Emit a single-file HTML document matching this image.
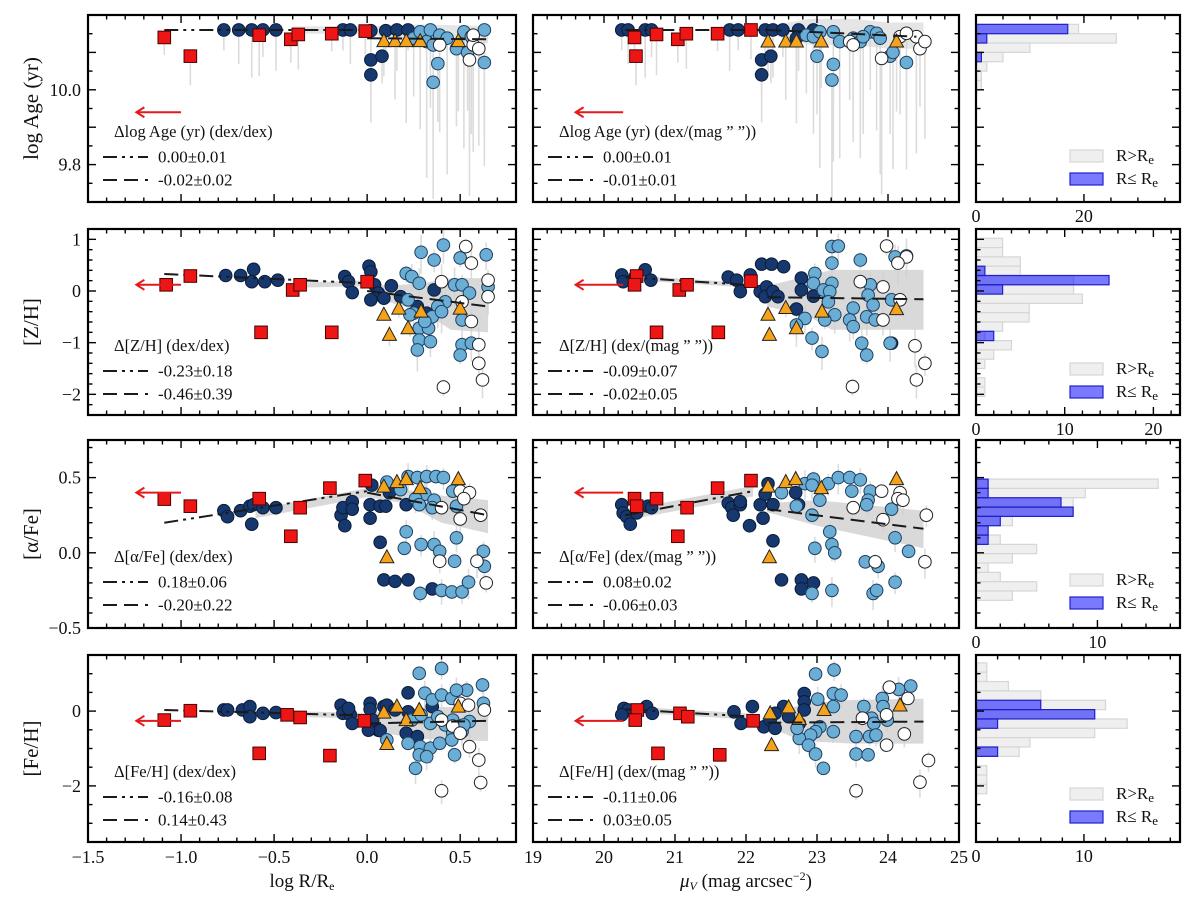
<!DOCTYPE html>
<html><head><meta charset="utf-8"><style>
body{margin:0;background:#fff;}
svg text{font-family:"Liberation Serif",serif;fill:#111;}
</style></head><body>
<svg id="fig" width="1200" height="902" viewBox="0 0 1200 902" xmlns="http://www.w3.org/2000/svg"></svg>
<script>
// ---------- DATA ----------
// Row 1: log Age vs log R/Re
const ageR_red_x=[-1.09,-0.95,-0.58,-0.41,-0.37,-0.19,-0.01];
const ageR_red_y=[10.14,10.09,10.146,10.135,10.148,10.15,10.157];
const ageR_navy_x=[-0.77,-0.69,-0.62,-0.56,-0.49,-0.13,-0.09,0.02,0.10,0.16,0.22,0.02,0.02,0.08];
const ageR_navy_y=[10.16,10.16,10.16,10.16,10.16,10.16,10.16,10.158,10.158,10.16,10.16,10.08,10.04,10.09];
const ageR_light_x=[0.25,0.285,0.32,0.34,0.355,0.38,0.39,0.43,0.48,0.52,0.54,0.56,0.63,0.63,0.355];
const ageR_light_y=[10.138,10.155,10.129,10.16,10.12,10.07,10.146,10.138,10.11,10.155,10.10,10.142,10.16,10.073,10.02];
const ageR_white_x=[0.57,0.6,0.55,0.39,0.57];
const ageR_white_y=[10.12,10.11,10.08,10.12,10.146];
const ageR_tri_x=[0.09,0.15,0.21,0.285,0.49];
const ageR_tri_y=[10.13,10.13,10.13,10.13,10.13];
const ageR_fit1_x=[-1.09,0];const ageR_fit1_y=[10.16,10.16];
const ageR_fit2_x=[0,0.65];const ageR_fit2_y=[10.138,10.135];
const ageR_band_x=[-0.4,0,0.3,0.65];const ageR_band_hi=[10.17,10.17,10.175,10.17];const ageR_band_lo=[10.15,10.15,10.12,10.125];
// Row 1: log Age vs muV
const ageM_red_x=[20.43,20.45,20.74,21.04,21.16,21.6,22.07];
const ageM_red_y=[10.14,10.09,10.148,10.135,10.15,10.15,10.16];
const ageM_navy_x=[20.25,20.34,20.58,20.67,21.77,21.89,22.27,22.38,22.52,22.74,22.95,22.22,22.22,22.35,22.71];
const ageM_navy_y=[10.16,10.16,10.16,10.16,10.16,10.16,10.16,10.16,10.16,10.16,10.16,10.08,10.04,10.09,10.138];
const ageM_light_x=[22.85,22.95,23.04,23.23,23.32,23.0,23.23,23.21,23.51,23.61,23.75,23.84,23.89,24.03,24.07,24.26,23.65];
const ageM_light_y=[10.146,10.142,10.155,10.155,10.129,10.09,10.068,10.026,10.138,10.129,10.155,10.151,10.138,10.09,10.10,10.073,10.142];
const ageM_white_x=[23.46,23.51,23.91,24.17,24.4,24.45,24.52,24.26];
const ageM_white_y=[10.129,10.12,10.084,10.142,10.142,10.11,10.129,10.151];
const ageM_tri_x=[22.31,22.56,22.71,23.06,24.12];
const ageM_tri_y=[10.129,10.129,10.129,10.129,10.129];
const ageM_fit1_x=[20.3,22.3];const ageM_fit1_y=[10.16,10.16];
const ageM_fit2_x=[22.3,24.4];const ageM_fit2_y=[10.16,10.142];
const ageM_band_x=[22.3,22.9,23.5,24.0,24.5];const ageM_band_hi=[10.17,10.19,10.19,10.18,10.18];const ageM_band_lo=[10.15,10.12,10.12,10.11,10.11];
// Row 2: [Z/H] vs log R/Re
const zR_red_x=[-1.08,-0.95,-0.57,-0.40,-0.36,-0.19,0.0];
const zR_red_y=[0.12,0.29,-0.8,0.02,0.12,-0.8,0.18];
const zR_navy_x=[-0.76,-0.68,-0.61,-0.62,-0.55,-0.48,-0.12,-0.10,-0.08,0.01,0.02,0.04,0.06,0.09,0.02,0.13,0.18,0.27,0.32,0.36];
const zR_navy_y=[0.30,0.30,0.42,0.18,0.18,0.21,0.28,0.18,-0.03,0.48,0.37,0.12,-0.04,-0.14,-0.17,0.10,-0.11,-0.30,-0.43,0.02];
const zR_light_x=[0.21,0.24,0.29,0.36,0.41,0.50,0.64,0.47,0.51,0.28,0.22,0.25,0.23,0.28,0.33,0.28,0.34,0.27,0.51,0.56,0.50,0.42,0.38,0.35,0.51,0.55,0.65,0.40,0.31];
const zR_light_y=[0.34,0.28,0.75,0.60,0.89,0.64,0.70,0.12,0.12,0.15,-0.17,-0.43,-0.46,-0.72,-0.72,-0.95,-0.98,-1.14,-1.04,-1.01,-1.24,-0.21,-0.30,-0.50,-0.56,-0.04,0.08,-0.40,-0.59];
const zR_white_x=[0.53,0.56,0.40,0.65,0.65,0.51,0.56,0.60,0.60,0.62,0.41];
const zR_white_y=[0.86,0.54,0.18,0.21,-0.11,-0.21,-0.59,-1.04,-1.40,-1.72,-1.86];
const zR_tri_x=[0.09,0.17,0.29,0.50,0.12,0.22];
const zR_tri_y=[-0.46,-0.34,-0.40,-0.34,-0.85,-0.72];
const zR_fit1_x=[-1.09,0];const zR_fit1_y=[0.33,0.15];
const zR_fit2_x=[0,0.65];const zR_fit2_y=[0.0,-0.30];
const zR_band_x=[-0.4,0,0.1,0.3,0.45,0.65];const zR_band_hi=[0.16,0.2,0.1,0.15,0.25,0.25];const zR_band_lo=[0.06,0.1,-0.2,-0.4,-0.75,-0.8];
// Row 2: [Z/H] vs muV
const zM_red_x=[20.46,20.43,21.06,21.17,20.74,21.61,22.07];
const zM_red_y=[0.29,0.12,0.02,0.12,-0.80,-0.80,0.19];
const zM_navy_x=[20.25,20.27,20.44,20.58,20.66,21.75,21.87,21.92,22.06,22.22,22.36,22.53,22.20,22.29,22.27,22.38,22.45,22.78,22.78,22.95,22.71,24.05];
const zM_navy_y=[0.31,0.18,0.28,0.41,0.21,0.27,0.21,-0.01,0.31,0.52,0.52,0.47,-0.01,0.08,-0.11,-0.01,-0.11,0.25,0.02,-0.10,-0.35,-1.01];
const zM_light_x=[23.21,23.30,23.21,22.97,22.95,23.21,23.09,23.18,23.16,23.25,23.11,22.83,22.71,22.93,23.07,23.61,23.75,23.72,23.79,23.70,23.82,23.51,23.46,23.51,23.63,23.70,24.10,24.26,24.05,24.03];
const zM_light_y=[0.86,0.87,0.54,0.34,0.15,0.15,0.02,-0.01,-0.21,-0.46,-0.56,-0.53,-0.66,-0.91,-1.17,0.60,0.12,-0.08,-0.27,-0.50,-0.56,-0.33,-0.56,-0.69,-1.01,-1.24,0.66,0.68,-0.17,-1.01];
const zM_white_x=[23.98,24.26,24.14,23.61,23.93,24.17,23.93,24.38,24.52,24.40,23.50];
const zM_white_y=[0.87,0.66,0.54,0.18,0.08,-0.17,-0.56,-1.06,-1.40,-1.72,-1.85];
const zM_tri_x=[22.31,22.56,23.07,24.12,22.71,22.33];
const zM_tri_y=[-0.46,-0.33,-0.40,-0.35,-0.72,-0.85];
const zM_fit1_x=[20.3,22.1];const zM_fit1_y=[0.27,0.11];
const zM_fit2_x=[22.3,24.5];const zM_fit2_y=[-0.12,-0.16];
const zM_band_x=[22.3,22.9,23.2,24.5];const zM_band_hi=[0.1,0.3,0.41,0.41];const zM_band_lo=[-0.3,-0.5,-0.75,-0.75];
// Row 3: [a/Fe] vs log R/Re
const aR_red_x=[-1.09,-0.95,-0.58,-0.41,-0.36,-0.20,-0.01];
const aR_red_y=[0.357,0.31,0.36,0.11,0.30,0.43,0.48];
const aR_navy_x=[-0.77,-0.75,-0.68,-0.62,-0.63,-0.61,-0.56,-0.49,-0.14,-0.13,-0.12,-0.08,-0.08,0.016,0.016,0.07,0.10,0.12,0.025,0.07,0.09,0.15,0.22,0.35,0.21];
const aR_navy_y=[0.28,0.24,0.28,0.19,0.31,0.32,0.30,0.30,0.25,0.30,0.18,0.34,0.29,0.23,0.32,0.31,0.31,0.40,0.45,0.07,-0.18,-0.19,-0.18,-0.24,0.32];
const aR_light_x=[0.106,0.18,0.22,0.27,0.32,0.37,0.41,0.31,0.36,0.26,0.28,0.35,0.48,0.46,0.21,0.20,0.29,0.36,0.39,0.48,0.47,0.625,0.63,0.285,0.40,0.455,0.51,0.545];
const aR_light_y=[0.47,0.42,0.507,0.50,0.507,0.507,0.50,0.39,0.35,0.36,0.32,0.30,0.31,0.41,0.14,0.03,0.055,0.055,0.01,0.10,-0.056,0.01,-0.09,-0.27,-0.25,-0.26,-0.26,-0.195];
const aR_white_x=[0.50,0.55,0.52,0.40,0.50,0.61,0.39,0.59,0.64];
const aR_white_y=[0.41,0.40,0.36,0.30,0.225,0.25,-0.056,-0.056,-0.20];
const aR_tri_x=[0.09,0.16,0.21,0.285,0.49,0.106];
const aR_tri_y=[0.44,0.47,0.49,0.43,0.49,-0.03];
const aR_fit1_x=[-1.09,0];const aR_fit1_y=[0.20,0.41];
const aR_fit2_x=[0,0.65];const aR_fit2_y=[0.40,0.25];
const aR_band_x=[-0.6,0,0.2,0.4,0.65];const aR_band_hi=[0.29,0.43,0.42,0.38,0.35];const aR_band_lo=[0.23,0.37,0.33,0.2,0.13];
// Row 3: [a/Fe] vs muV
const aM_red_x=[20.43,20.46,20.74,21.17,21.04,21.6,22.07];
const aM_red_y=[0.36,0.31,0.36,0.30,0.11,0.43,0.48];
const aM_navy_x=[20.25,20.27,20.32,20.37,20.46,20.62,20.67,21.75,21.80,21.82,21.92,21.92,22.05,22.20,22.24,22.31,22.27,22.38,22.38,22.70,22.74,22.50,22.78,22.78,22.95];
const aM_navy_y=[0.32,0.265,0.24,0.19,0.265,0.31,0.30,0.33,0.30,0.25,0.32,0.34,0.18,0.32,0.23,0.46,0.39,0.32,0.08,0.40,0.32,-0.18,-0.18,-0.24,-0.20];
const aM_light_x=[22.50,22.71,22.83,22.95,22.93,23.04,23.16,23.30,23.46,23.61,23.49,23.75,23.72,23.70,24.05,22.93,23.18,23.21,23.25,22.97,23.68,23.86,23.79,23.84,24.10,24.29,24.10,23.21,22.93];
const aM_light_y=[0.40,0.31,0.46,0.49,0.45,0.35,0.46,0.50,0.50,0.485,0.41,0.41,0.35,0.32,0.29,0.25,0.14,0.055,0.0,0.03,-0.06,-0.09,-0.27,-0.25,0.10,0.01,-0.195,-0.25,-0.27];
const aM_white_x=[23.51,23.93,24.17,24.14,24.21,23.91,24.54,24.52,23.82];
const aM_white_y=[0.30,0.22,0.40,0.36,0.35,0.41,0.25,-0.06,-0.06];
const aM_tri_x=[22.31,22.56,22.70,23.06,24.12,22.33];
const aM_tri_y=[0.44,0.47,0.49,0.43,0.49,-0.03];
const aM_fit1_x=[20.3,22.1];const aM_fit1_y=[0.25,0.41];
const aM_fit2_x=[22.3,24.5];const aM_fit2_y=[0.29,0.16];
const aM_band_x=[22.3,23.0,24.5];const aM_band_hi=[0.33,0.35,0.28];const aM_band_lo=[0.27,0.18,0.03];
// Row 4: [Fe/H] vs log R/Re
const fR_red_x=[-1.09,-0.95,-0.58,-0.43,-0.36,-0.20,-0.015];
const fR_red_y=[-0.24,0.01,-1.13,-0.10,-0.17,-1.19,-0.26];
const fR_navy_x=[-0.77,-0.75,-0.67,-0.63,-0.63,-0.56,-0.49,-0.14,-0.13,-0.09,-0.08,-0.10,0.016,0.016,0.03,0.06,0.07,0.09,0.106,0.22,0.22,0.21,0.27,0.35,0.15,0.007];
const fR_navy_y=[0.03,0.03,0.03,0.12,-0.15,-0.06,-0.04,0.16,-0.06,-0.10,-0.33,0.07,0.21,0.05,-0.24,-0.51,-0.52,0.12,0.16,0.49,-0.02,-0.59,-0.68,0.12,0.03,-0.51];
const fR_light_x=[0.28,0.40,0.31,0.35,0.40,0.455,0.535,0.48,0.62,0.625,0.24,0.29,0.34,0.38,0.42,0.46,0.50,0.55,0.46,0.51,0.22,0.285,0.34,0.28,0.32,0.39,0.455,0.26,0.47,0.52,0.106];
const fR_light_y=[1.01,1.14,0.48,0.30,0.43,0.34,0.56,0.56,0.70,0.21,-0.24,-0.10,-0.33,-0.15,-0.37,-0.24,-0.40,-0.28,-0.59,-0.55,-0.86,-0.95,-0.99,-1.17,-1.22,-0.86,-0.77,-1.53,-1.17,-0.37,-0.77];
const fR_white_x=[0.50,0.545,0.63,0.40,0.46,0.50,0.55,0.60,0.61,0.40];
const fR_white_y=[0.21,0.16,0.03,-0.24,-0.40,-0.59,-0.95,-1.31,-1.91,-2.13];
const fR_tri_x=[0.09,0.16,0.21,0.28,0.49,0.106];
const fR_tri_y=[-0.04,0.12,-0.24,0.03,0.12,-0.88];
const fR_fit1_x=[-1.09,0];const fR_fit1_y=[0.03,-0.12];
const fR_fit2_x=[0,0.65];const fR_fit2_y=[-0.33,-0.26];
const fR_band_x=[-0.4,0,0.1,0.3,0.65];const fR_band_hi=[0.0,-0.05,0.0,0.1,0.12];const fR_band_lo=[-0.15,-0.2,-0.6,-0.75,-0.8];
// Row 4: [Fe/H] vs muV
const fM_red_x=[20.47,20.44,21.07,21.18,22.10,20.76,21.63];
const fM_red_y=[0.03,-0.24,-0.06,-0.15,-0.26,-1.13,-1.17];
const fM_navy_x=[20.28,20.34,20.25,20.60,20.68,21.83,21.93,22.09,22.25,22.34,22.41,22.53,22.60,22.82,22.82,22.82,22.75,22.41];
const fM_navy_y=[0.07,0.03,-0.10,0.12,-0.06,-0.02,-0.33,0.12,-0.42,-0.24,-0.46,0.12,-0.15,0.47,0.25,0.03,-0.33,-0.06];
const fM_light_x=[22.98,23.24,23.01,23.23,23.34,23.23,23.66,23.92,23.93,23.77,23.80,23.99,24.15,24.32,23.04,22.98,22.91,22.75,22.88,22.98,23.09,23.23,23.55,23.74,23.55,23.72,23.83,22.72];
const fM_light_y=[0.99,1.10,0.32,0.47,0.43,0.12,0.12,0.34,0.12,-0.19,-0.33,-0.24,0.58,0.67,-0.42,-0.55,-0.64,-0.73,-0.91,-1.15,-1.53,-0.55,-0.68,-0.68,-1.15,-1.17,-0.64,-0.46];
const fM_white_x=[24.02,24.28,23.98,23.64,24.23,23.98,24.57,24.45,23.55];
const fM_white_y=[0.64,0.34,-0.10,-0.19,-0.61,-0.91,-1.32,-1.90,-2.13];
const fM_tri_x=[22.34,22.60,22.75,23.10,24.17,22.36];
const fM_tri_y=[-0.06,0.10,-0.21,0.03,0.15,-0.91];
const fM_fit1_x=[20.3,22.1];const fM_fit1_y=[0.05,-0.15];
const fM_fit2_x=[22.3,24.5];const fM_fit2_y=[-0.31,-0.28];
const fM_band_x=[22.4,22.8,23.5,24.5];const fM_band_hi=[-0.1,0.2,0.3,0.33];const fM_band_lo=[-0.5,-0.8,-0.87,-0.87];
// Arrow (upper-limit) y-values per row
const arrowY=[9.94,0.12,0.40,-0.26];
// Legend texts
const legTitlesR=["\u0394log Age (yr) (dex/dex)","\u0394[Z/H] (dex/dex)","\u0394[\u03b1/Fe] (dex/dex)","\u0394[Fe/H] (dex/dex)"];
const legTitlesM=["\u0394log Age (yr) (dex/(mag \u201d \u201d))","\u0394[Z/H] (dex/(mag \u201d \u201d))","\u0394[\u03b1/Fe] (dex/(mag \u201d \u201d))","\u0394[Fe/H] (dex/(mag \u201d \u201d))"];
const legVal1R=["0.00\u00b10.01","-0.23\u00b10.18","0.18\u00b10.06","-0.16\u00b10.08"];
const legVal2R=["-0.02\u00b10.02","-0.46\u00b10.39","-0.20\u00b10.22","0.14\u00b10.43"];
const legVal1M=["0.00\u00b10.01","-0.09\u00b10.07","0.08\u00b10.02","-0.11\u00b10.06"];
const legVal2M=["-0.01\u00b10.01","-0.02\u00b10.05","-0.06\u00b10.03","0.03\u00b10.05"];
// Histograms (y-bin top, bin width, counts)
const hist1_top=10.175,hist1_w=0.025;
const hist1_gray=[19,26,10,5,2,1,1];
const hist1_blue=[17,2,0,1];
const hist2_top=1.02,hist2_w=0.18;
const hist2_gray=[3,3,5,5,11,11,12,6,6,3,1,4,2,1,0,1,1];
const hist2_blue=[0,0,0,1,15,3,0,0,0,0,2];
const hist3_top=0.49,hist3_w=0.062;
const hist3_gray=[15,9,8,8,3,1,2,5,3,1,2,5,3];
const hist3_blue=[1,1,7,8,2,1,1];
const hist4_top=1.29,hist4_w=0.25;
const hist4_gray=[1,1,3,6,12,11,14,11,5,4,0,1,1,1];
const hist4_blue=[0,0,0,0,6,11,2,0,0,2];
// Axis tick labels
const xTickLabelsR=[-1.5,-1.0,-0.5,0.0,0.5];
const xTickLabelsM=[19,20,21,22,23,24,25];
const yTickLabels=[[10.0,9.8],[1,0,-1,-2],[0.5,0.0,-0.5],[0,-2]];
const yTickText=[["10.0","9.8"],["1","0","\u22121","\u22122"],["0.5","0.0","\u22120.5"],["0","\u22122"]];
const histTickLabels=[[0,20],[0,10,20],[0,10],[0,10]];

// ---------- LAYOUT ----------
const COLS=[{x0:88,x1:516,d:[-1.5,0.8],maj:0.5,min:0.1},{x0:533,x1:959,d:[19,25],maj:1,min:0.2}];
const HC={x0:976,x1:1180};
const HDOM=[37.8,23,16.8,18.9];
const HMAJ=[20,10,10,10],HMIN=[5,2,2,2];
const ROWS=[{y0:15,y1:202,d:[9.7,10.2],maj:0.1,min:0.05},{y0:229,y1:415,d:[-2.4,1.2],maj:1,min:0.2},{y0:440,y1:628,d:[-0.5,0.75],maj:0.5,min:0.1},{y0:655,y1:842,d:[-3.5,1.5],maj:2,min:0.5}];
const ERR_DOWN=[0.26,0.3,0.08,0.3];
const ERR_FACT={navy:0.35,light:1,white:1,tri:0.6,red:0.3};

const svg=document.getElementById('fig');
const NS='http://www.w3.org/2000/svg';
function el(tag,attrs,parent){const e=document.createElementNS(NS,tag);for(const k in attrs)e.setAttribute(k,attrs[k]);(parent||svg).appendChild(e);return e;}
function sx(c,v){const C=COLS[c];return C.x0+(v-C.d[0])/(C.d[1]-C.d[0])*(C.x1-C.x0);}
function sy(r,v){const R=ROWS[r];return R.y1-(v-R.d[0])/(R.d[1]-R.d[0])*(R.y1-R.y0);}
function hx(r,v){return HC.x0+v/HDOM[r]*(HC.x1-HC.x0);}

const defs=el('defs',{});
for(let r=0;r<4;r++){for(let c=0;c<3;c++){
  const cp=el('clipPath',{id:'cp'+r+'_'+c},defs);
  const X0=c<2?COLS[c].x0:HC.x0,X1=c<2?COLS[c].x1:HC.x1;
  el('rect',{x:X0,y:ROWS[r].y0,width:X1-X0,height:ROWS[r].y1-ROWS[r].y0},cp);
}}

function ticksBetween(d0,d1,step){const out=[];const s=Math.ceil(d0/step-1e-6);for(let k=s;k*step<=d1+1e-6;k++)out.push(+(k*step).toFixed(6));return out;}
function isMaj(v,maj){return Math.abs(v/maj-Math.round(v/maj))<1e-4;}

function drawFrame(r,c,g){
  const R=ROWS[r];const X0=c<2?COLS[c].x0:HC.x0,X1=c<2?COLS[c].x1:HC.x1;
  ticksBetween(R.d[0],R.d[1],R.min).forEach(v=>{const y=sy(r,v);const L=isMaj(v,R.maj)?8:4.5;
    el('line',{x1:X0,y1:y,x2:X0+L,y2:y,stroke:'#000','stroke-width':1.4},g);
    el('line',{x1:X1,y1:y,x2:X1-L,y2:y,stroke:'#000','stroke-width':1.4},g);});
  let xs;
  if(c<2){const C=COLS[c];xs=ticksBetween(C.d[0],C.d[1],C.min).map(v=>[sx(c,v),isMaj(v,C.maj)]);}
  else {xs=ticksBetween(0,HDOM[r],HMIN[r]).map(v=>[hx(r,v),isMaj(v,HMAJ[r])]);}
  xs.forEach(([x,m])=>{const L=m?8:4.5;
    el('line',{x1:x,y1:R.y1,x2:x,y2:R.y1-L,stroke:'#000','stroke-width':1.4},g);
    el('line',{x1:x,y1:R.y0,x2:x,y2:R.y0+L,stroke:'#000','stroke-width':1.4},g);});
  const fr=el('rect',{x:X0,y:R.y0,width:X1-X0,height:R.y1-R.y0,fill:'none',stroke:'#000','stroke-width':2.2},g);
  
  
}

function drawScatter(r,c,name,S){
  const g=el('g',{'clip-path':'url(#cp'+r+'_'+c+')'});
  
  
  const eg=el('g',{},g);
  
  
  ['navy','light','white','tri','red'].forEach(k=>{
    const f=ERR_FACT[k];
    const X=S[k+'_x'],Y=S[k+'_y'];
    for(let i=0;i<X.length;i++){const e=ERR_DOWN[r]*f*(0.6+((i*7)%5)/5);
      const up=r===0?0.01:e*0.8;
      const ln=el('line',{x1:sx(c,X[i]),x2:sx(c,X[i]),y1:sy(r,Y[i]+up),y2:sy(r,Y[i]-e),stroke:'#dcdcdc','stroke-width':1.6},eg);
      
      }
  });
  const bands=S.bands||[];
  bands.forEach(b=>{let pts=[];for(let i=0;i<b[0].length;i++)pts.push(sx(c,b[0][i])+','+sy(r,b[1][i]));for(let i=b[0].length-1;i>=0;i--)pts.push(sx(c,b[0][i])+','+sy(r,b[2][i]));
    const p=el('polygon',{points:pts.join(' '),fill:'#cfcfcf','fill-opacity':r===0?0.55:0.8},g);
    
    });
  const circ=(k,fill,stroke,nm)=>{const X=S[k+'_x'],Y=S[k+'_y'];for(let i=0;i<X.length;i++){const m=el('circle',{cx:sx(c,X[i]),cy:sy(r,Y[i]),r:6.3,fill:fill,stroke:stroke,'stroke-width':1},g);
    
    }};
  circ('navy','#16386e','#0b1c38','inner-point');
  circ('light','#6aaed6','#1f3f5f','outer-point');
  circ('white','#ffffff','#222','outer-faint-point');
  {const X=S.tri_x,Y=S.tri_y;for(let i=0;i<X.length;i++){const x=sx(c,X[i]),y=sy(r,Y[i]);
    const t=el('polygon',{points:(x)+','+(y-7.5)+' '+(x-7)+','+(y+5.5)+' '+(x+7)+','+(y+5.5),fill:'#f5a31a',stroke:'#222','stroke-width':1},g);
    
    }}
  const l1=el('polyline',{points:S.fit1_x.map((v,i)=>sx(c,v)+','+sy(r,S.fit1_y[i])).join(' '),fill:'none',stroke:'#1a1a1a','stroke-width':2,'stroke-dasharray':'14,5,3,5,3,5'},g);
  
  
  const l2=el('polyline',{points:S.fit2_x.map((v,i)=>sx(c,v)+','+sy(r,S.fit2_y[i])).join(' '),fill:'none',stroke:'#1a1a1a','stroke-width':2,'stroke-dasharray':'14,7'},g);
  
  
  {const X=S.red_x,Y=S.red_y;for(let i=0;i<X.length;i++){const x=sx(c,X[i]),y=sy(r,Y[i]);
    const q=el('rect',{x:x-6.3,y:y-6.3,width:12.6,height:12.6,fill:'#ee1515',stroke:'#4a0000','stroke-width':1},g);
    
    }}
  const ax0=c===0?sx(0,-1.0):sx(1,20.27),ax1=c===0?sx(0,-1.24):sx(1,19.6),ay=sy(r,arrowY[r]);
  const ag=el('g',{},g);
  
  
  el('line',{x1:ax0,y1:ay,x2:ax1+1,y2:ay,stroke:'#e41a1a','stroke-width':2},ag);
  el('polyline',{points:(ax1+8)+','+(ay-5)+' '+ax1+','+ay+' '+(ax1+8)+','+(ay+5),fill:'none',stroke:'#e41a1a','stroke-width':2},ag);
  const X0=COLS[c].x0,Y0=ROWS[r].y0;
  const lg=el('g',{});
  
  
  const tt=el('text',{x:X0+26,y:Y0+122,'font-size':16.5},lg);tt.textContent=(c===0?legTitlesR:legTitlesM)[r];
  
  
  el('line',{x1:X0+15,x2:X0+60,y1:Y0+142,y2:Y0+142,stroke:'#1a1a1a','stroke-width':2,'stroke-dasharray':'14,5,3,5,3,5'},lg);
  const v1=el('text',{x:X0+70,y:Y0+147.5,'font-size':17},lg);v1.textContent=(c===0?legVal1R:legVal1M)[r];
  
  
  el('line',{x1:X0+15,x2:X0+60,y1:Y0+165,y2:Y0+165,stroke:'#1a1a1a','stroke-width':2,'stroke-dasharray':'14,7'},lg);
  const v2=el('text',{x:X0+70,y:Y0+170.5,'font-size':17},lg);v2.textContent=(c===0?legVal2R:legVal2M)[r];
  
  
  const fg=el('g',{});drawFrame(r,c,fg);
}

const P=[
 [{red_x:ageR_red_x,red_y:ageR_red_y,navy_x:ageR_navy_x,navy_y:ageR_navy_y,light_x:ageR_light_x,light_y:ageR_light_y,white_x:ageR_white_x,white_y:ageR_white_y,tri_x:ageR_tri_x,tri_y:ageR_tri_y,fit1_x:ageR_fit1_x,fit1_y:ageR_fit1_y,fit2_x:ageR_fit2_x,fit2_y:ageR_fit2_y,bands:[[ageR_band_x,ageR_band_hi,ageR_band_lo]]},
  {red_x:ageM_red_x,red_y:ageM_red_y,navy_x:ageM_navy_x,navy_y:ageM_navy_y,light_x:ageM_light_x,light_y:ageM_light_y,white_x:ageM_white_x,white_y:ageM_white_y,tri_x:ageM_tri_x,tri_y:ageM_tri_y,fit1_x:ageM_fit1_x,fit1_y:ageM_fit1_y,fit2_x:ageM_fit2_x,fit2_y:ageM_fit2_y,bands:[[ageM_band_x,ageM_band_hi,ageM_band_lo]]}],
 [{red_x:zR_red_x,red_y:zR_red_y,navy_x:zR_navy_x,navy_y:zR_navy_y,light_x:zR_light_x,light_y:zR_light_y,white_x:zR_white_x,white_y:zR_white_y,tri_x:zR_tri_x,tri_y:zR_tri_y,fit1_x:zR_fit1_x,fit1_y:zR_fit1_y,fit2_x:zR_fit2_x,fit2_y:zR_fit2_y,bands:[[zR_band_x,zR_band_hi,zR_band_lo]]},
  {red_x:zM_red_x,red_y:zM_red_y,navy_x:zM_navy_x,navy_y:zM_navy_y,light_x:zM_light_x,light_y:zM_light_y,white_x:zM_white_x,white_y:zM_white_y,tri_x:zM_tri_x,tri_y:zM_tri_y,fit1_x:zM_fit1_x,fit1_y:zM_fit1_y,fit2_x:zM_fit2_x,fit2_y:zM_fit2_y,bands:[[zM_fit1_x,zM_fit1_y.map(v=>v+0.04),zM_fit1_y.map(v=>v-0.05)],[zM_band_x,zM_band_hi,zM_band_lo]]}],
 [{red_x:aR_red_x,red_y:aR_red_y,navy_x:aR_navy_x,navy_y:aR_navy_y,light_x:aR_light_x,light_y:aR_light_y,white_x:aR_white_x,white_y:aR_white_y,tri_x:aR_tri_x,tri_y:aR_tri_y,fit1_x:aR_fit1_x,fit1_y:aR_fit1_y,fit2_x:aR_fit2_x,fit2_y:aR_fit2_y,bands:[[aR_band_x,aR_band_hi,aR_band_lo]]},
  {red_x:aM_red_x,red_y:aM_red_y,navy_x:aM_navy_x,navy_y:aM_navy_y,light_x:aM_light_x,light_y:aM_light_y,white_x:aM_white_x,white_y:aM_white_y,tri_x:aM_tri_x,tri_y:aM_tri_y,fit1_x:aM_fit1_x,fit1_y:aM_fit1_y,fit2_x:aM_fit2_x,fit2_y:aM_fit2_y,bands:[[aM_fit1_x,aM_fit1_y.map(v=>v+0.035),aM_fit1_y.map(v=>v-0.035)],[aM_band_x,aM_band_hi,aM_band_lo]]}],
 [{red_x:fR_red_x,red_y:fR_red_y,navy_x:fR_navy_x,navy_y:fR_navy_y,light_x:fR_light_x,light_y:fR_light_y,white_x:fR_white_x,white_y:fR_white_y,tri_x:fR_tri_x,tri_y:fR_tri_y,fit1_x:fR_fit1_x,fit1_y:fR_fit1_y,fit2_x:fR_fit2_x,fit2_y:fR_fit2_y,bands:[[fR_band_x,fR_band_hi,fR_band_lo]]},
  {red_x:fM_red_x,red_y:fM_red_y,navy_x:fM_navy_x,navy_y:fM_navy_y,light_x:fM_light_x,light_y:fM_light_y,white_x:fM_white_x,white_y:fM_white_y,tri_x:fM_tri_x,tri_y:fM_tri_y,fit1_x:fM_fit1_x,fit1_y:fM_fit1_y,fit2_x:fM_fit2_x,fit2_y:fM_fit2_y,bands:[[fM_fit1_x,fM_fit1_y.map(v=>v+0.08),fM_fit1_y.map(v=>v-0.08)],[fM_band_x,fM_band_hi,fM_band_lo]]}]
];
const rowNames=['age','zh','afe','feh'];
for(let r=0;r<4;r++){drawScatter(r,0,rowNames[r]+'-vs-radius',P[r][0]);drawScatter(r,1,rowNames[r]+'-vs-surface-brightness',P[r][1]);}

const HD=[[hist1_top,hist1_w,hist1_gray,hist1_blue],[hist2_top,hist2_w,hist2_gray,hist2_blue],[hist3_top,hist3_w,hist3_gray,hist3_blue],[hist4_top,hist4_w,hist4_gray,hist4_blue]];
for(let r=0;r<4;r++){
  const [top,w,gray,blue]=HD[r];
  const g=el('g',{'clip-path':'url(#cp'+r+'_2)'});
  
  
  gray.forEach((n,i)=>{if(!n)return;const ya=sy(r,top-i*w),yb=sy(r,top-(i+1)*w);
    const b=el('rect',{x:HC.x0,y:ya,width:hx(r,n)-HC.x0,height:yb-ya,fill:'#efefef',stroke:'#d6d6d6','stroke-width':1.2},g);
    
    });
  blue.forEach((n,i)=>{if(!n)return;const ya=sy(r,top-i*w),yb=sy(r,top-(i+1)*w);
    const b=el('rect',{x:HC.x0,y:ya,width:hx(r,n)-HC.x0,height:yb-ya,fill:'#0000ff','fill-opacity':0.52,stroke:'#2020c8','stroke-width':1.2},g);
    
    });
  const Y=ROWS[r].y0;const lg=el('g',{});
  
  
  const gy=[135,134,134,133][r]+Y, by=gy+23;
  el('rect',{x:1070,y:gy,width:33,height:12,fill:'#efefef',stroke:'#d6d6d6','stroke-width':1.2},lg);
  const t1=el('text',{x:1116,y:gy+11,'font-size':17},lg);t1.textContent='R>R';
  el('tspan',{'font-size':13,dy:3},t1).textContent='e';
  
  
  el('rect',{x:1070,y:by,width:33,height:12,fill:'#0000ff','fill-opacity':0.52,stroke:'#2020c8','stroke-width':1.2},lg);
  const t2=el('text',{x:1116,y:by+11,'font-size':17},lg);t2.textContent='R\u2264 R';
  el('tspan',{'font-size':13,dy:3},t2).textContent='e';
  
  
  const fg=el('g',{});drawFrame(r,2,fg);
  histTickLabels[r].forEach(v=>{const t=el('text',{x:hx(r,v),y:ROWS[r].y1+20,'font-size':18,'text-anchor':'middle'});t.textContent=String(v);
    
    });
}

for(let r=0;r<4;r++){
  yTickLabels[r].forEach((v,i)=>{const t=el('text',{x:81,y:sy(r,v)+6,'font-size':18,'text-anchor':'end'});t.textContent=yTickText[r][i];
    
    });
}
xTickLabelsR.forEach(v=>{const t=el('text',{x:sx(0,v),y:863,'font-size':18,'text-anchor':'middle'});t.textContent=(v<0?'\u2212':'')+Math.abs(v).toFixed(1);
  
  });
xTickLabelsM.forEach(v=>{const t=el('text',{x:sx(1,v),y:863,'font-size':18,'text-anchor':'middle'});t.textContent=String(v);
  
  });
const yTitles=['log Age (yr)','[Z/H]','[\u03b1/Fe]','[Fe/H]'];
yTitles.forEach((s,r)=>{const cy=(ROWS[r].y0+ROWS[r].y1)/2;const t=el('text',{x:0,y:0,'font-size':21,'text-anchor':'middle',transform:'translate(38,'+cy+') rotate(-90)'});t.textContent=s;
  
  });
const xt1=el('text',{x:302,y:887,'font-size':19,'text-anchor':'middle'});xt1.textContent='log R/R';
el('tspan',{'font-size':12,dy:3},xt1).textContent='e';


const xt2=el('text',{x:746,y:887,'font-size':19,'text-anchor':'middle'});
el('tspan',{'font-style':'italic'},xt2).textContent='\u03bc';
el('tspan',{'font-size':12,dy:3,'font-style':'italic'},xt2).textContent='V';
el('tspan',{dy:-3},xt2).textContent=' (mag arcsec';
el('tspan',{'font-size':12,dy:-7},xt2).textContent='\u22122';
el('tspan',{dy:7},xt2).textContent=')';


</script>
</body></html>
